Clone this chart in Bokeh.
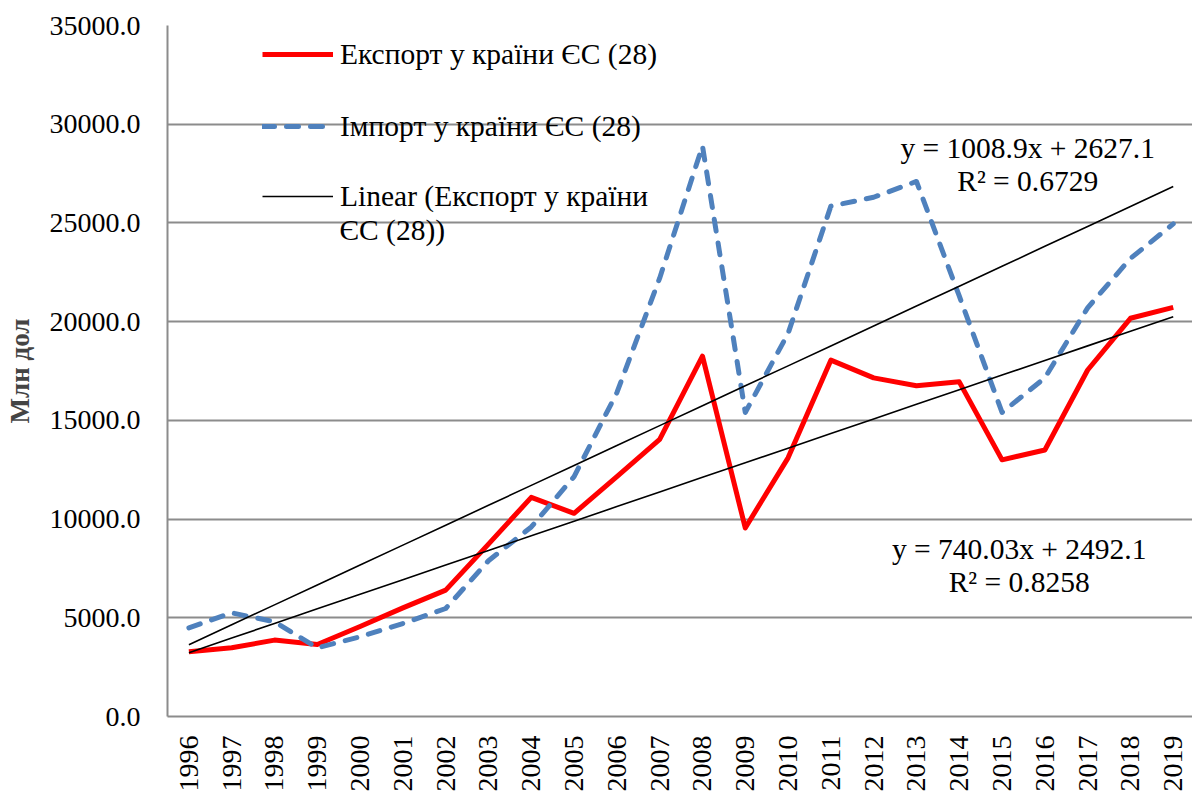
import numpy as np
from bokeh.plotting import figure
from bokeh.models import (Legend, LegendItem, Label, FixedTicker,
                          NumeralTickFormatter, Range1d, ColumnDataSource)
from bokeh.embed import file_html
from bokeh.resources import INLINE

# ---------------- data ----------------
years = list(range(1996, 2020))
export_eu = [3280, 3480, 3870, 3650, 4560, 5500, 6400, 8730, 11100, 10290,
             12150, 14040, 18250, 9550, 13100, 18050, 17150, 16750, 16950,
             13000, 13500, 17550, 20170, 20720]
import_eu = [4490, 5250, 4800, 3480, 4040, 4710, 5470, 7890, 9600, 12150,
             16400, 22200, 28900, 15400, 19400, 25850, 26300, 27100, 21300,
             15400, 17150, 20700, 23200, 24950]
export_trend = [740.03, 2492.1]    # slope, intercept (x = 1..24)
import_trend = [1008.9, 2627.1]
export_r2 = "0.8258"
import_r2 = "0.6729"
y_ticks = [0, 5000, 10000, 15000, 20000, 25000, 30000, 35000]

label_export = "Експорт у країни ЄС (28)"
label_import = "Імпорт у країни ЄС (28)"
label_linear_1 = "Linear (Експорт у країни"
label_linear_2 = "ЄС (28))"
y_title = "Млн дол"

FONT = "Liberation Serif"
GRID = "#8c8c8c"

idx = np.arange(1, len(years) + 1)
src = ColumnDataSource(dict(
    year=years,
    exp=export_eu,
    imp=import_eu,
    exp_tr=export_trend[0] * idx + export_trend[1],
    imp_tr=import_trend[0] * idx + import_trend[1],
))

p = figure(width=1192, height=794, output_backend="svg", toolbar_location=None,
           x_range=Range1d(1995.5, 2019.45), y_range=Range1d(0, 35000),
           min_border_left=167, min_border_right=0, min_border_top=25,
           min_border_bottom=76)
p.outline_line_color = None
p.background_fill_color = "white"

# axes
p.xaxis.ticker = FixedTicker(ticks=years)
p.xaxis.major_label_orientation = np.pi / 2
p.yaxis.ticker = FixedTicker(ticks=y_ticks)
p.yaxis.formatter = NumeralTickFormatter(format="0.0")
for ax in (p.xaxis, p.yaxis):
    ax.axis_line_color = GRID
    ax.axis_line_width = 2
    ax.major_tick_line_color = None
    ax.minor_tick_line_color = None
    ax.major_tick_out = 0
    ax.major_tick_in = 0
    ax.major_label_text_font = FONT
    ax.major_label_text_font_size = "28px"
    ax.major_label_text_color = "black"
p.xaxis.major_label_standoff = 19
p.yaxis.major_label_standoff = 27
p.yaxis.axis_label = y_title
p.yaxis.axis_label_text_font = FONT
p.yaxis.axis_label_text_font_style = "bold"
p.yaxis.axis_label_text_font_size = "27px"
p.yaxis.axis_label_standoff = 12

p.xgrid.grid_line_color = None
p.ygrid.ticker = FixedTicker(ticks=y_ticks)
p.ygrid.grid_line_color = GRID
p.ygrid.grid_line_width = 2

# series
r_exp = p.line("year", "exp", source=src, line_color="#ff0000", line_width=5,
               line_join="round")
r_imp = p.line("year", "imp", source=src, line_color="#4f81bd", line_width=5,
               line_dash="12 12", line_cap="round", line_join="round")
r_exp_tr = p.line("year", "exp_tr", source=src, line_color="black", line_width=1.6)
r_imp_tr = p.line("year", "imp_tr", source=src, line_color="black", line_width=1.6)

# legends (one per row to control spacing)
def add_legend(label, renderer, bottom):
    lg = Legend(items=[LegendItem(label=label, renderers=[renderer])],
                location=(95, bottom), padding=0, margin=0, spacing=0,
                glyph_width=71, glyph_height=34, label_height=34,
                label_standoff=7, label_text_font=FONT,
                label_text_font_size="29.5px", label_text_color="black",
                background_fill_alpha=0, border_line_alpha=0)
    p.add_layout(lg)

add_legend(label_export, r_exp, 645)
add_legend(label_import, r_imp, 573)
add_legend(label_linear_1, r_exp_tr, 503)
p.add_layout(Label(x=1999.52, y=24646, text=label_linear_2, text_font=FONT,
                   text_font_size="29.5px", text_baseline="middle",
                   text_align="left", text_color="black"))

# trend equations
def eq(text, x, y):
    p.add_layout(Label(x=x, y=y, text=text, text_font=FONT,
                       text_font_size="29.5px", text_baseline="middle",
                       text_align="center", text_color="black"))

eq(f"y = {import_trend[0]}x + {import_trend[1]}", 2015.6, 28788)
eq(f"R² = {import_r2}", 2015.6, 27121)
eq(f"y = {export_trend[0]:.2f}x + {export_trend[1]}", 2015.4, 8485)
eq(f"R² = {export_r2}", 2015.4, 6818)

open("out.html", "w").write(file_html(p, INLINE))
